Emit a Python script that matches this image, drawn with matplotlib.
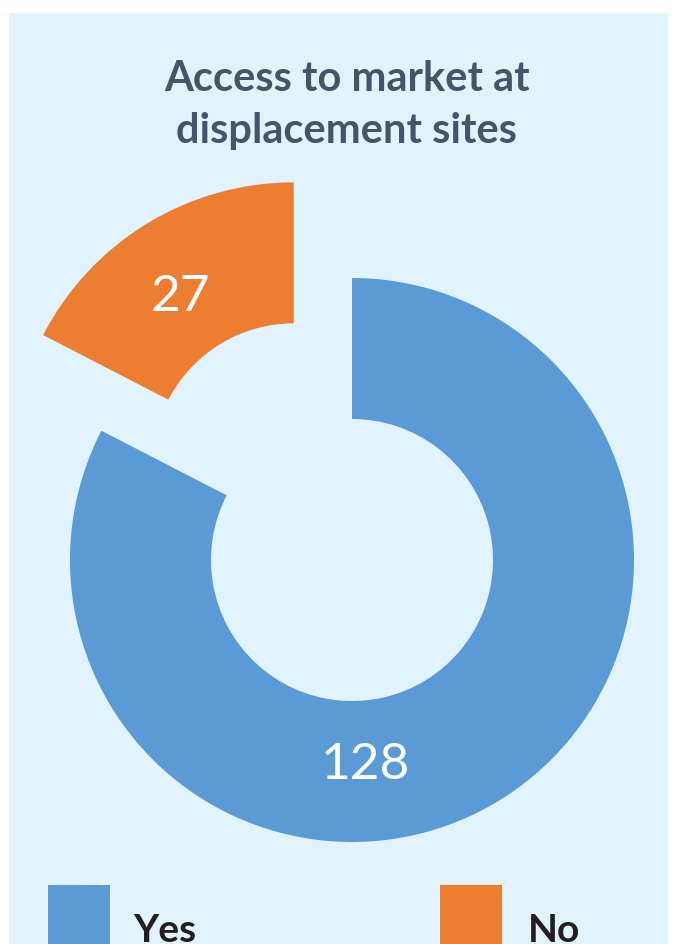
import matplotlib.pyplot as plt
from matplotlib.patches import Rectangle

categories = ['Yes', 'No']
counts = [128, 27]
colors = ['#5B9BD5', '#ED7D31']
title = 'Access to market at\ndisplacement sites'

W, H = 679, 944
fig = plt.figure(figsize=(W / 100, H / 100), dpi=100, facecolor='white')
ax = fig.add_axes([0, 0, 1, 1])
ax.set_xlim(0, W)
ax.set_ylim(0, H)
ax.set_aspect('equal')
ax.axis('off')

# panel background
ax.add_patch(Rectangle((9, 0), 659, H - 13, facecolor='#E1F3FC', edgecolor='none', zorder=0))

font = ['Lato', 'DejaVu Sans']

ax.text(347, H - 105, title, ha='center', va='center', fontsize=30, fontweight='bold',
        color='#44546A', family=font, linespacing=1.45)

# donut (pixel units, y up)
cx, cy, r = 352, H - 560, 282
wedges, _ = ax.pie(counts, colors=colors, startangle=90, counterclock=False,
                   radius=r, center=(cx, cy), explode=[0, 112],
                   wedgeprops=dict(width=141, linewidth=0))
ax.set_xlim(0, W)
ax.set_ylim(0, H)

ax.text(cx + 14, cy - 205, str(counts[0]), ha='center', va='center', fontsize=37,
        color='white', family=font)
ax.text(180, H - 297, str(counts[1]), ha='center', va='center', fontsize=37,
        color='white', family=font)

# legend
for x0, tx, lab, col in [(48, 133, categories[0], colors[0]), (440, 528, categories[1], colors[1])]:
    ax.add_patch(Rectangle((x0, H - 947), 62, 62, facecolor=col, edgecolor='none'))
    ax.text(tx, H - 930, lab, ha='left', va='center', fontsize=28, fontweight='bold',
            color='#231F20', family=font)

fig.savefig('out.png', dpi=100, facecolor=fig.get_facecolor())
